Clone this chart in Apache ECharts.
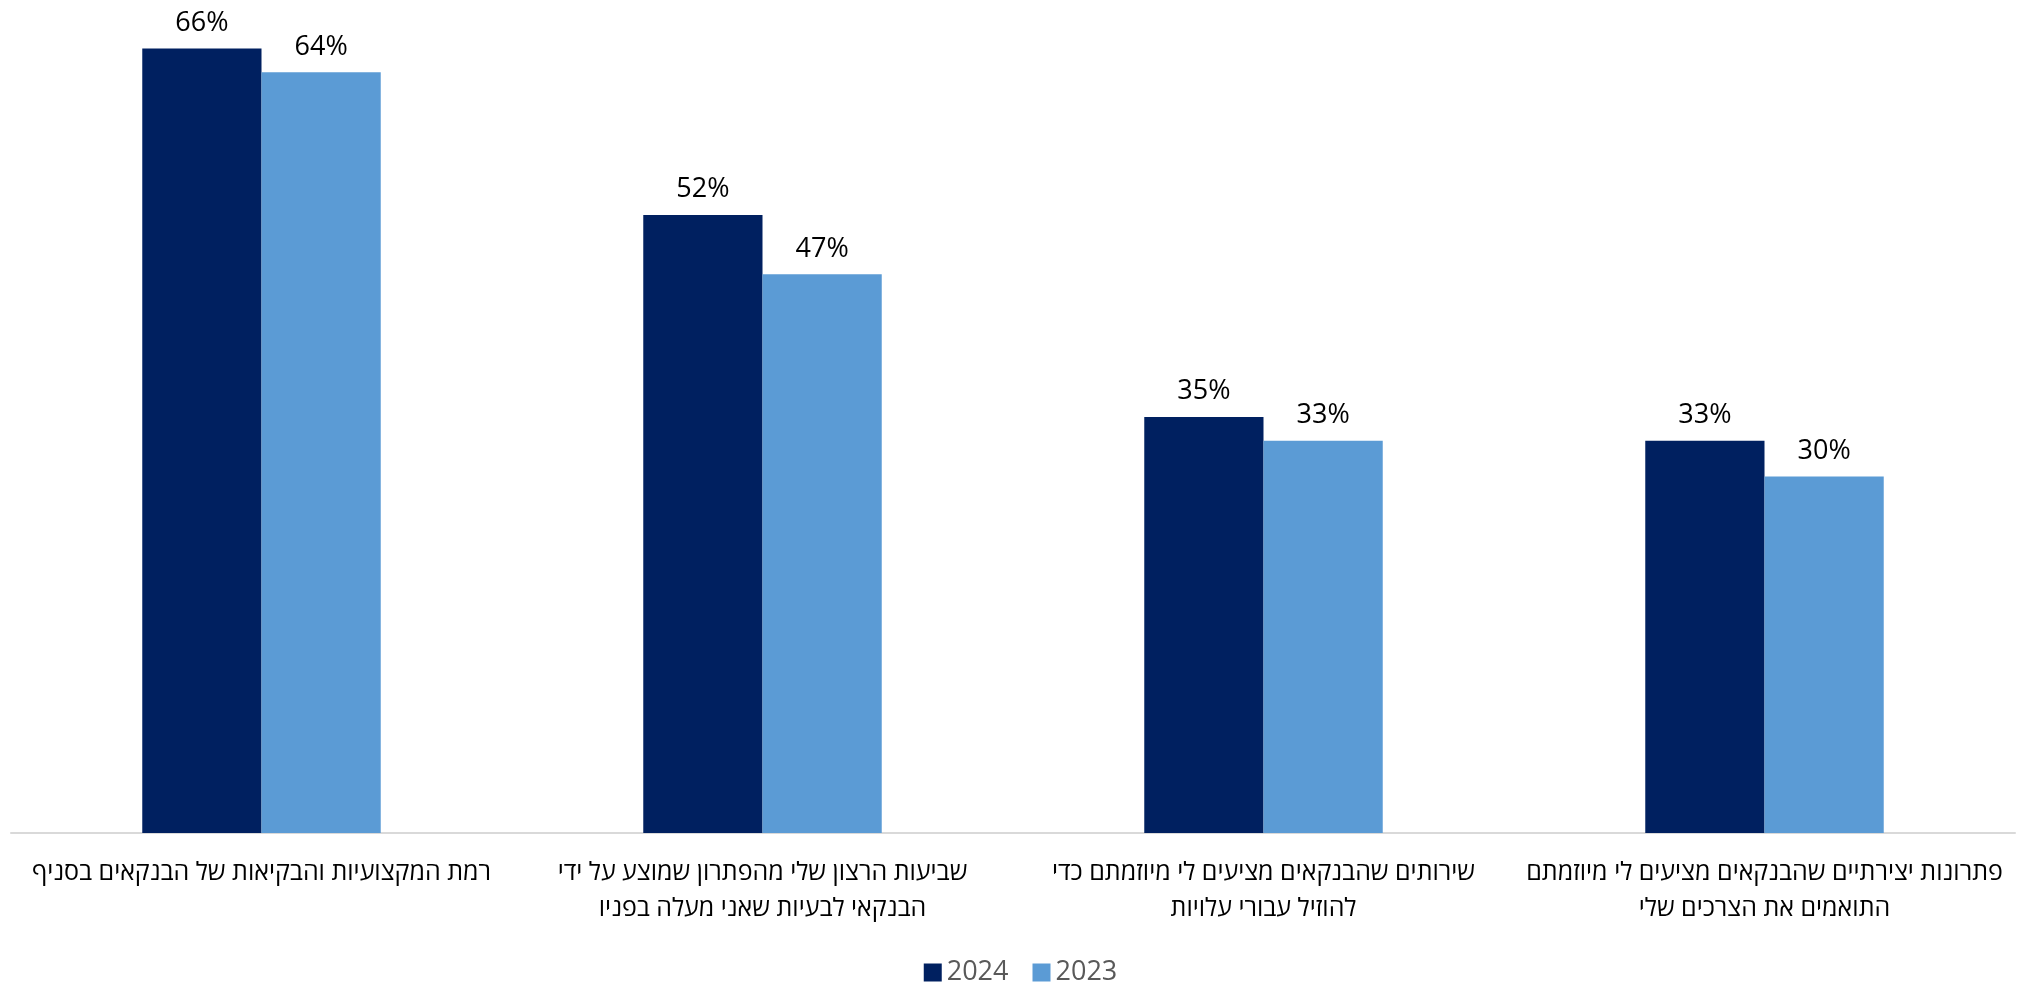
<!DOCTYPE html>
<html>
<head>
<meta charset="utf-8">
<script src="https://cdn.jsdelivr.net/npm/echarts@6/dist/echarts.min.js"></script>
<style>
  html, body { margin: 0; padding: 0; background: #fff; }
  #chart { width: 2041px; height: 983px; }
</style>
</head>
<body>
<div id="chart"></div>
<script>
// categories, left to right as drawn
const categories = [
  'רמת המקצועיות והבקיאות של הבנקאים בסניף',
  'שביעות הרצון שלי מהפתרון שמוצע על ידי\nהבנקאי לבעיות שאני מעלה בפניו',
  'שירותים שהבנקאים מציעים לי מיוזמתם כדי\nלהוזיל עבורי עלויות',
  'פתרונות יצירתיים שהבנקאים מציעים לי מיוזמתם\nהתואמים את הצרכים שלי'
];
const seriesNames = ['2024', '2023'];
const values2024 = [66, 52, 35, 33];
const values2023 = [64, 47, 33, 30];

const FONT = '"Open Sans", "DejaVu Sans", sans-serif';
const chart = echarts.init(document.getElementById('chart'));

const barLabel = {
  show: true,
  position: 'top',
  distance: 12,
  formatter: '{c}%',
  color: '#000',
  fontSize: 27,
  fontFamily: FONT
};

chart.setOption({
  animation: false,
  color: ['#002060', '#5B9BD5'],
  grid: { left: 11, right: 26, top: 1, bottom: 150 },
  legend: {
    data: seriesNames,
    top: 954,
    left: 'center',
    icon: 'rect',
    itemWidth: 18,
    itemHeight: 18,
    itemGap: 24,
    textStyle: { color: '#595959', fontSize: 27, fontFamily: FONT }
  },
  xAxis: {
    type: 'category',
    data: categories,
    axisLine: { lineStyle: { color: '#D9D9D9', width: 2 } },
    axisTick: { show: false },
    axisLabel: {
      interval: 0,
      margin: 22,
      color: '#000',
      fontSize: 25,
      lineHeight: 36,
      fontFamily: FONT,
      align: 'center'
    }
  },
  yAxis: {
    type: 'value',
    min: 0,
    max: 70,
    show: false,
    splitLine: { show: false }
  },
  series: [
    {
      name: seriesNames[0],
      type: 'bar',
      data: values2024,
      barWidth: '23.8%',
      barGap: '0%',
      label: barLabel
    },
    {
      name: seriesNames[1],
      type: 'bar',
      data: values2023,
      barWidth: '23.8%',
      label: barLabel
    }
  ]
});
</script>
</body>
</html>
